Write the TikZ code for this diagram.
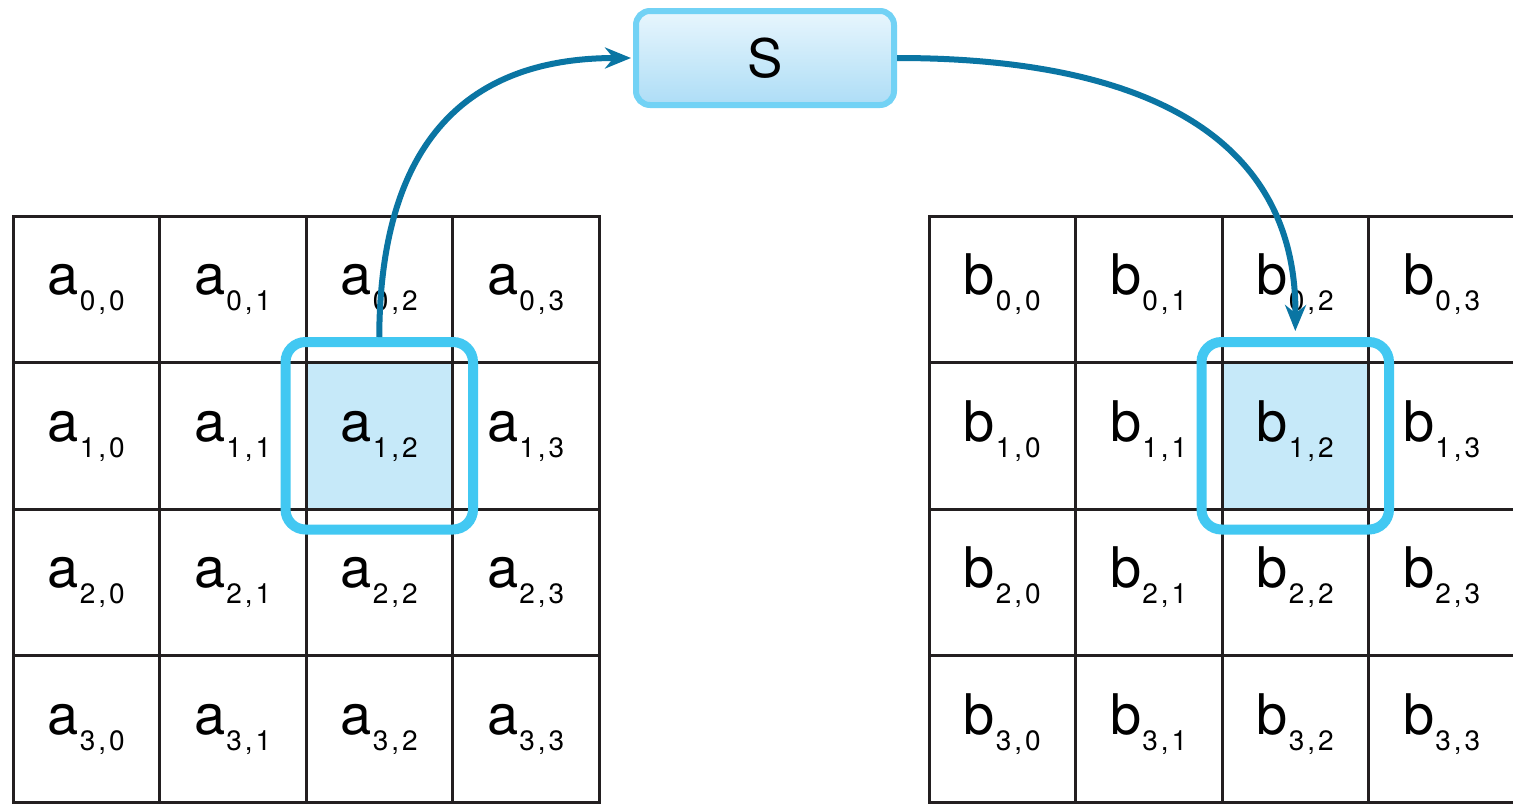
\documentclass[tikz,border=0pt]{standalone}
\usepackage{fontspec}
\setmainfont{TeX Gyre Heros}
\usetikzlibrary{arrows.meta,fit}
\definecolor{gridc}{HTML}{231F20}
\definecolor{arrc}{HTML}{0A75A3}
\definecolor{hlc}{HTML}{42C8F2}
\definecolor{hlfill}{HTML}{C6E9F9}
\definecolor{sstroke}{HTML}{72D2F5}
\definecolor{stop}{HTML}{E8F6FD}
\definecolor{sbot}{HTML}{ADDDF6}
\newcommand\cellab[3]{#1\raisebox{-16pt}{\fontsize{28}{30}\selectfont\kern1pt #2\kern3pt,\kern3pt#3}}
\begin{document}
\begin{tikzpicture}[x=1pt,y=-1pt,
  cellbox/.style={draw=gridc,line width=3pt,minimum size=146.5pt,inner sep=0pt,
    text height=30pt,text depth=19pt,font=\fontsize{56}{60}\selectfont},
  hlbox/.style={draw=hlc,line width=10pt,rounded corners=20pt,inner sep=19pt},
  sbox/.style={draw=sstroke,line width=6pt,rounded corners=14pt,top color=stop,bottom color=sbot,
    minimum width=258pt,minimum height=94pt,inner sep=0pt,font=\fontsize{53}{56}\selectfont},
  conn/.style={draw=arrc,line width=6pt,-{Stealth[length=26pt,width=21pt]}}]
\useasboundingbox (0,0) rectangle (1513,804);
\fill[white] (0,0) rectangle (1513,804);
\foreach \i in {0,...,3}{
  \foreach \j in {0,...,3}{
    \node[cellbox] (a\i\j) at ({86.25+146.5*\j},{289.25+146.5*\i}) {\cellab{a}{\i}{\j}};
    \node[cellbox] (b\i\j) at ({1002.25+146.5*\j},{289.25+146.5*\i}) {\cellab{b}{\i}{\j}};
  }
}
\node[cellbox,fill=hlfill] (a12f) at (a12.center) {\cellab{a}{1}{2}};
\node[cellbox,fill=hlfill] (b12f) at (b12.center) {\cellab{b}{1}{2}};
\node[sbox] (S) at (765,58) {S};
\node[hlbox,fit=(a12)] (h1) {};
\node[hlbox,fit=(b12)] (h2) {};
\draw[conn,shorten >=2pt] (h1.north) .. controls (380,150) and (460,58) .. (S.west);
\draw[conn,shorten >=6pt] (S.east) .. controls (1150,58) and (1297,140) .. (h2.north);
\end{tikzpicture}
\end{document}
